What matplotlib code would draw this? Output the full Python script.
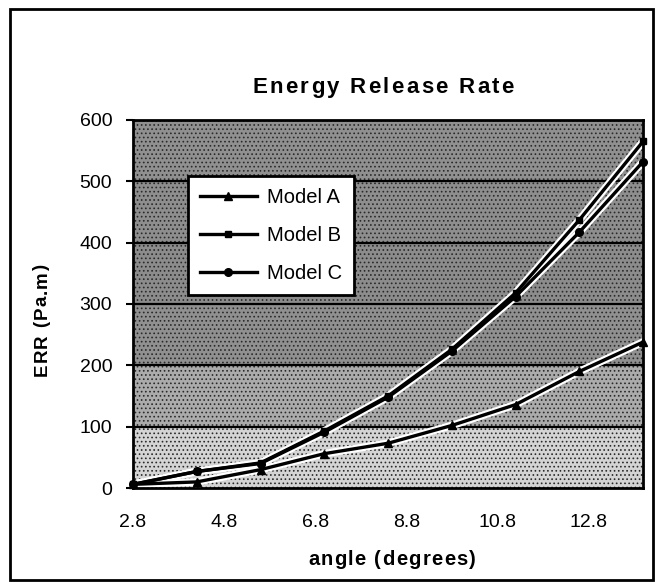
import numpy as np
import matplotlib
matplotlib.use('Agg')
import matplotlib.pyplot as plt
from matplotlib.patches import Rectangle
from matplotlib.font_manager import FontProperties
from matplotlib.transforms import IdentityTransform

plt.rcParams['font.family'] = ['Liberation Sans', 'DejaVu Sans']
plt.rcParams['hatch.linewidth'] = 0.7

# ── data ──────────────────────────────────────────────────────────
angle   = [2.8, 4.2, 5.6, 7.0, 8.4, 9.8, 11.2, 12.6, 14.0]
model_a = [6, 10, 30, 56, 73, 102, 136, 190, 238]
model_b = [6, 27, 41, 93, 150, 226, 318, 437, 565]
model_c = [6, 27, 40, 91, 148, 223, 312, 417, 532]

x_ticks = [2.8, 4.8, 6.8, 8.8, 10.8, 12.8]
y_ticks = [0, 100, 200, 300, 400, 500, 600]

# background bands (grey level per 100-step band, bottom → top)
band_grey = ['#d4d4d4', '#ababab', '#909090', '#8c8c8c', '#8e8e8e', '#909090']

W, H = 665, 588
fig = plt.figure(figsize=(W / 100, H / 100), dpi=100)
ax = fig.add_axes([0.200, 0.170, 0.767, 0.626])


def spaced_text(cx, cy, s, size, width, vertical=False):
    """letter-spaced bold text centred at (cx, cy) in pixels from top-left, spread to `width` px"""
    prop = FontProperties(family='Liberation Sans', weight='bold', size=size)
    r = fig.canvas.get_renderer()
    adv = [r.get_text_width_height_descent(ch if ch != ' ' else 'i', prop, ismath=False)[0] for ch in s]
    track = max((width - sum(adv)) / (len(s) - 1), 0)
    total = sum(adv) + track * (len(s) - 1)
    pos = -total / 2
    for ch, a in zip(s, adv):
        c = pos + a / 2
        if vertical:
            fig.text(cx, H - cy + c, ch, fontproperties=prop, rotation=90, ha='center', va='center',
                     transform=IdentityTransform())
        else:
            fig.text(cx + c, H - cy, ch, fontproperties=prop, ha='center', va='baseline',
                     transform=IdentityTransform())
        pos += a + track


for i, g in enumerate(band_grey):
    ax.axhspan(y_ticks[i], y_ticks[i + 1], facecolor=g, edgecolor='#2a2a2a',
               hatch='....', linewidth=0, zorder=0)

for yv in y_ticks[1:-1]:
    ax.axhline(yv, color='black', lw=1.6, zorder=1)

series = [('Model A', model_a, '^', 5.5), ('Model B', model_b, 's', 5), ('Model C', model_c, 'o', 5.5)]
# white halo under the lines (the scan shows the texture cleared around them)
for name, vals, mk, ms in series:
    ax.plot(angle, vals, color='white', lw=5.5, solid_capstyle='round', zorder=2, clip_on=False)
for name, vals, mk, ms in series:
    ax.plot(angle, vals, color='black', lw=2.4, marker=mk, markersize=ms,
            markerfacecolor='black', markeredgecolor='black', label=name,
            zorder=3, clip_on=False)

ax.set_xlim(2.8, 14.0)
ax.set_ylim(0, 600)
ax.set_xticks(x_ticks)
ax.set_xticklabels([f'{v:.1f}' for v in x_ticks])
ax.set_yticks(y_ticks)
ax.tick_params(axis='y', direction='out', length=5, width=1.5, pad=10, labelsize=14)
ax.tick_params(axis='x', length=0, pad=19, labelsize=14)
for sp in ax.spines.values():
    sp.set_linewidth(2.0)
    sp.set_color('black')
    sp.set_zorder(4)

spaced_text(383, 93, 'Energy Release Rate', 16, 262)
spaced_text(392, 565, 'angle (degrees)', 14.5, 168)
spaced_text(42, 320, 'ERR (Pa.m)', 13.5, 112, vertical=True)

leg = ax.legend(loc='upper left', bbox_to_anchor=(0.108, 0.848),
                fontsize=14.5, frameon=True, fancybox=False,
                handlelength=2.8, handletextpad=0.5, labelspacing=0.95,
                borderpad=0.6, borderaxespad=0)
leg.get_frame().set_edgecolor('black')
leg.get_frame().set_linewidth(2.0)
leg.get_frame().set_facecolor('white')
leg.get_frame().set_alpha(1)
leg.set_zorder(5)

# outer chart frame
fig.patches.append(Rectangle((10 / W, 8 / H), 643 / W, 571 / H, transform=fig.transFigure,
                             fill=False, edgecolor='black', linewidth=2.0))

fig.savefig('out.png', dpi=100)
